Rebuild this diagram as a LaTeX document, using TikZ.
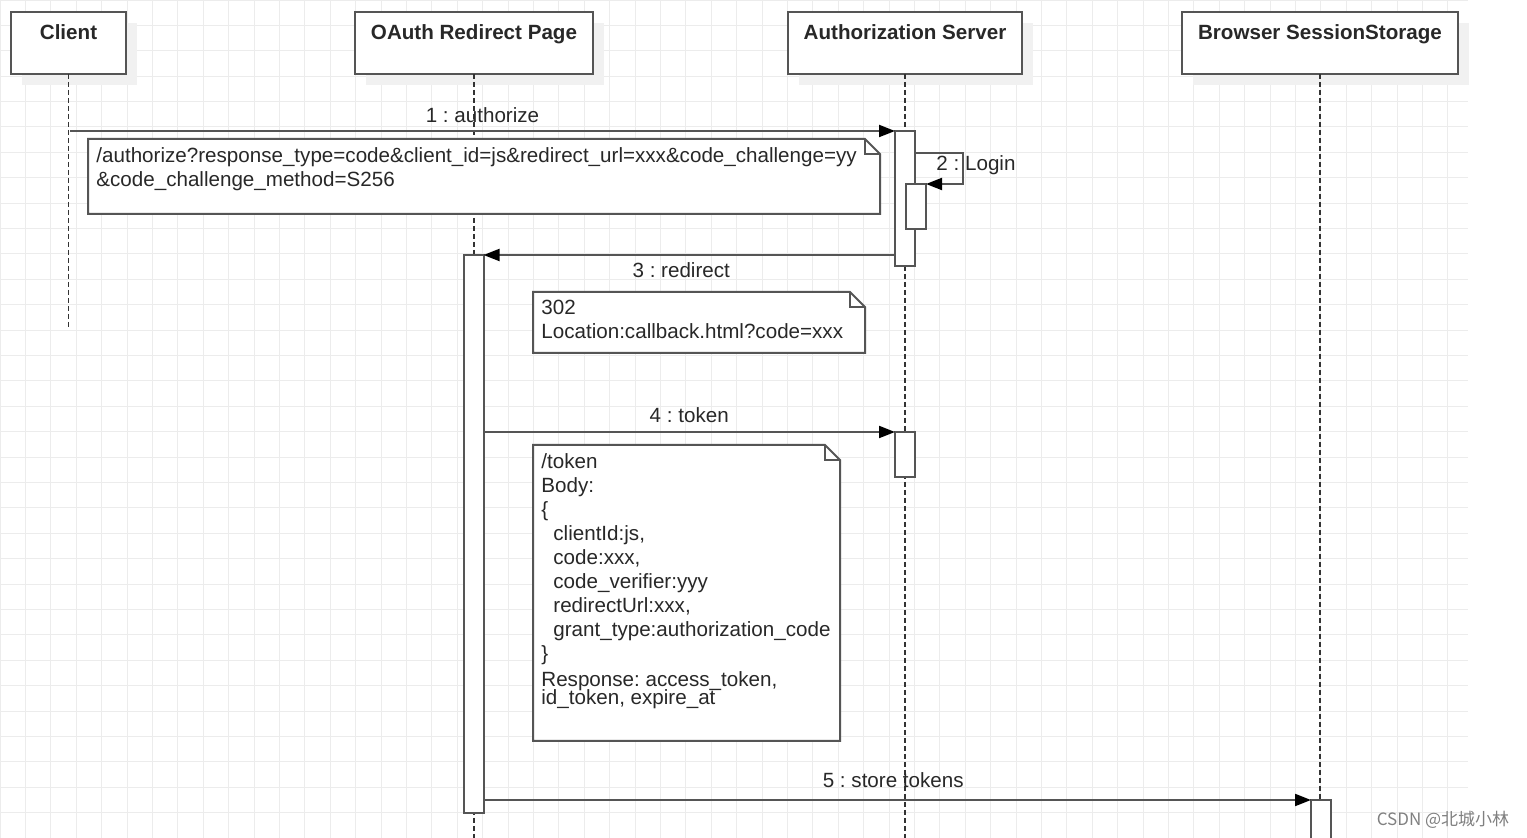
\documentclass[tikz,border=0pt]{standalone}
\usepackage{fontspec}
\setmainfont{Liberation Sans}
\newfontfamily\cjkfont{Noto Sans CJK SC}
\usepackage{tikz}
\usetikzlibrary{arrows.meta,shadows}
\frenchspacing

% folded note: left, top, right, bottom (in pixels of the picture)
\newcommand{\notebox}[4]{%
  \filldraw[draw=linegray, fill=white, line width=1pt] (#1,#2) -- (#3-15,#2) -- (#3,#2+15) -- (#3,#4) -- (#1,#4) -- cycle;
  \draw[linegray, line width=1pt] (#3-15,#2) -- (#3-15,#2+15) -- (#3,#2+15);}

\begin{document}
\begin{tikzpicture}[x=0.5pt,y=-0.5pt]

	\definecolor{linegray}{RGB}{85,85,85}
	\definecolor{gridgray}{RGB}{236,236,236}
	\definecolor{shadegray}{RGB}{241,241,241}
	\definecolor{textgray}{RGB}{40,40,40}

	\tikzset{every node/.style={font=\fontsize{10.3}{12}\selectfont, text=textgray}}
	\tikzstyle{msg} = [draw=linegray, line width=1pt, -{Triangle[length=8pt,width=6pt,color=black]}]
	\tikzstyle{msglabel} = [text height=7.5pt, text depth=2pt, inner sep=2pt]
	\tikzstyle{lifeline} = [draw=black!80, line width=0.7pt, dash pattern=on 2.5pt off 1.5pt]

	\useasboundingbox (0,0) rectangle (1527,838);
	\fill[white] (0,0) rectangle (1527,838);
	\draw[gridgray, line width=0.5pt, step=12.7pt] (0,0) grid (1468,838);
	\coordinate (bottom) at (0,838);

	\tikzset{lifebox/.style = {shape=rectangle, draw=linegray, line width=1pt, fill=white, inner sep=0pt, outer sep=0pt,
		text height=14pt, text depth=17pt, font=\bfseries\fontsize{10.3}{12}\selectfont,
		drop shadow={shadow xshift=5.5pt, shadow yshift=-5.5pt, fill=shadegray, opacity=1}}}
	\node[lifebox, minimum width=57.5pt] (client) at (68.5,43) {Client};
	\node[lifebox, minimum width=119pt] (redirect) at (474,43) {OAuth Redirect Page};
	\node[lifebox, minimum width=117pt] (authsrv) at (905,43) {Authorization Server};
	\node[lifebox, minimum width=138pt] (storage) at (1320,43) {Browser SessionStorage};

	\coordinate (clientend) at (70,328);
	\coordinate (storageend) at (1322,800);
	\draw[lifeline] (client.south) -- (client.south |- clientend);
	\draw[lifeline] (redirect.south) -- (redirect.south |- bottom);
	\draw[lifeline] (authsrv.south) -- (authsrv.south |- bottom);
	\draw[lifeline] (storage.south) -- (storage.south |- storageend);

	\tikzset{notetext/.style = {anchor=north west, align=left, inner sep=4pt}}
	\notebox{88}{139}{880}{214}
	\node[notetext] (authq) at (88,139) {/authorize?response\_type=code\&client\_id=js\&redirect\_url=xxx\&code\_challenge=yy\\\&code\_challenge\_method=S256};
	\notebox{533}{292}{865}{353}
	\node[notetext] (loc) at (533,292) {302\\Location:callback.html?code=xxx};
	\notebox{533}{445}{840}{741}
	\node[notetext] (tokenq) at (533,445) {/token\\Body:\\\{\\
		\hspace*{6pt}clientId:js,\\
		\hspace*{6pt}code:xxx,\\
		\hspace*{6pt}code\_verifier:yyy\\
		\hspace*{6pt}redirectUrl:xxx,\\
		\hspace*{6pt}grant\_type:authorization\_code\\
		\}\\[1pt]Response: access\_token,\\[-3pt]id\_token, expire\_at};

	\tikzset{actbox/.style = {shape=rectangle, draw=linegray, line width=1pt, fill=white, inner sep=0pt, outer sep=0pt, minimum width=10pt, anchor=north}}
	\node[actbox, minimum height=67.5pt] (a1) at (905,131) {};
	\node[actbox, minimum height=22.5pt] (a2) at (916,184) {};
	\node[actbox, minimum height=279pt] (b1) at (473.5,255) {};
	\node[actbox, minimum height=22.5pt] (a3) at (905,432) {};
	\node[actbox, minimum height=30pt] (s1) at (1321,800) {};

	\coordinate (m1) at (70,131);
	\draw[msg] (m1) -- (a1.north west) node[msglabel, midway, above=-0.5pt] {1 : authorize};
	\draw[msg] ([yshift=-11pt]a1.north east) -- ++(48,0) |- (a2.north east);
	\node (login) at (976,165) {2 : Login};
	\draw[msg] ([yshift=5.5pt]a1.south west) -- (b1.north east) node[msglabel, midway, below=1.5pt, xshift=-4pt] {3 : redirect};
	\draw[msg] (b1.east |- a3.north) -- (a3.north west) node[msglabel, midway, above] {4 : token};
	\draw[msg] (b1.east |- s1.north) -- (s1.north west) node[msglabel, midway, above=1.5pt, xshift=-2pt] {5 : store tokens};

	\node[text=black!50, font=\cjkfont\fontsize{8.5}{10}\selectfont] (mark) at (1443,820) {CSDN @北城小林};
\end{tikzpicture}
\end{document}
